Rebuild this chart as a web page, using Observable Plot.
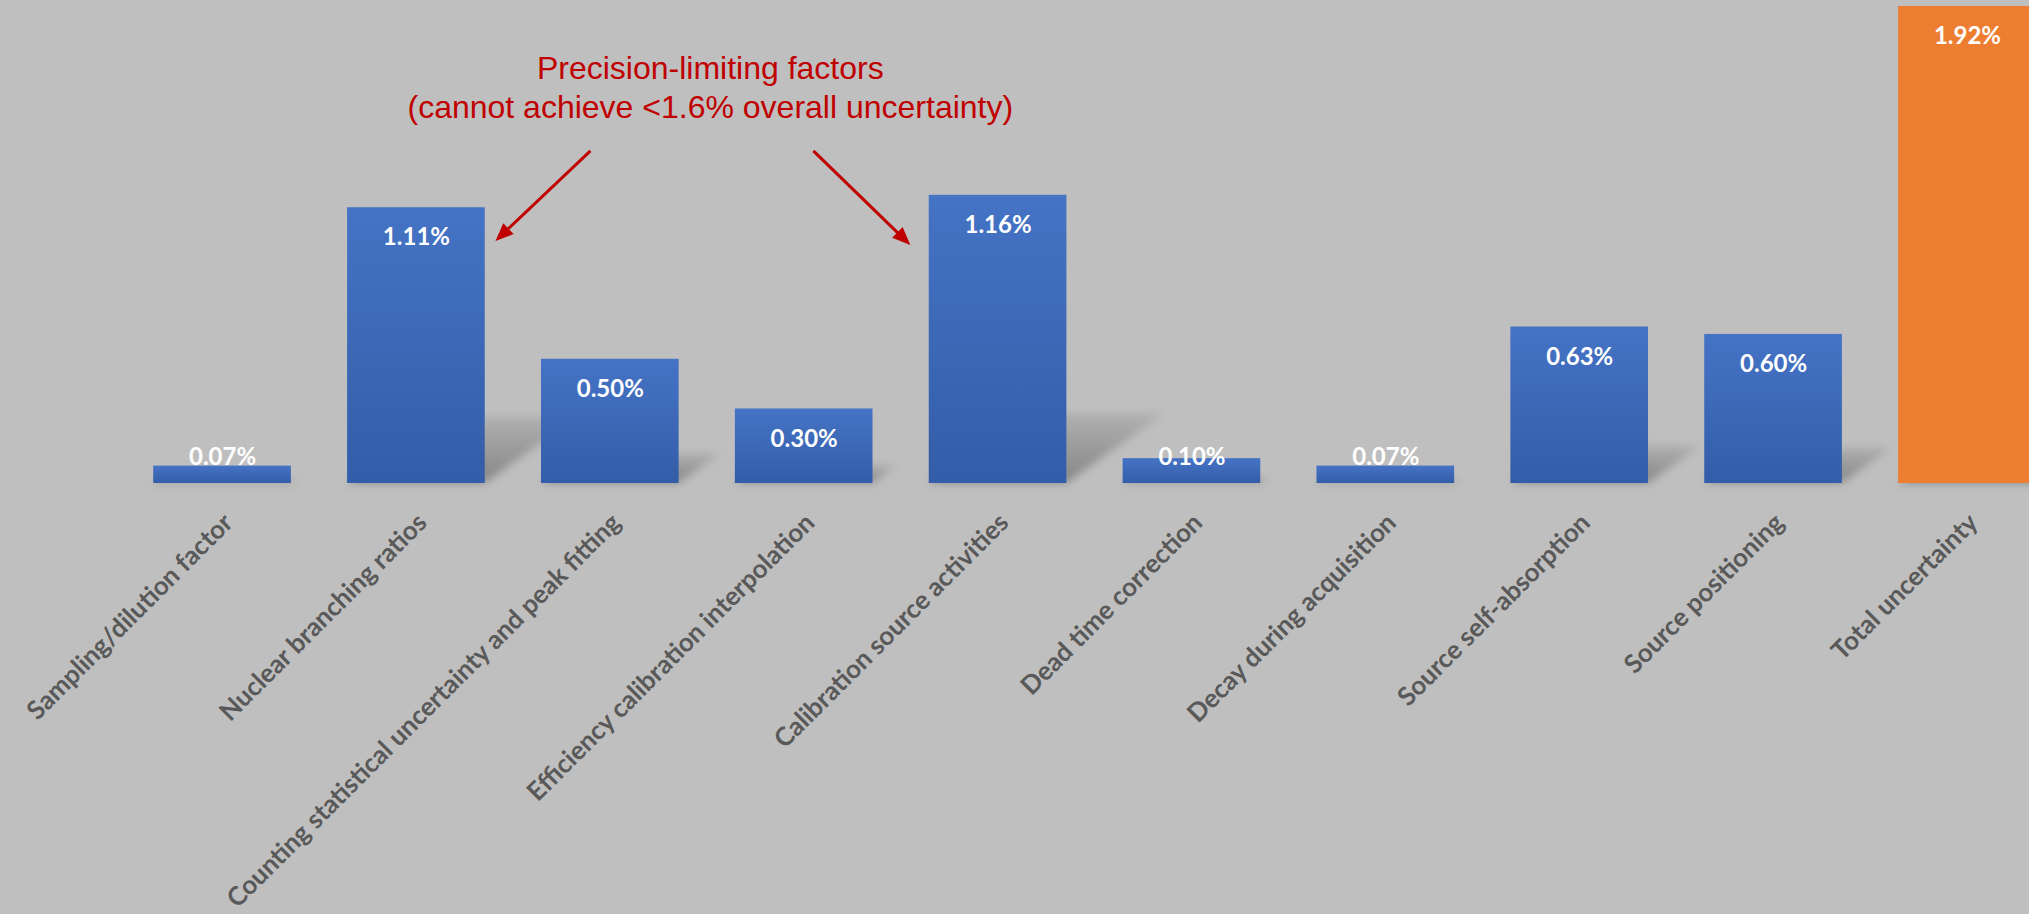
<!DOCTYPE html>
<html><head><meta charset="utf-8">
<script src="https://cdn.jsdelivr.net/npm/d3@7"></script>
<script src="https://cdn.jsdelivr.net/npm/@observablehq/plot@0.6"></script>
<style>
html,body{margin:0;padding:0;background:#BFBFBF;overflow:hidden;}
#chart svg{display:block;}
</style></head><body><div id="chart"></div>
<script>
// ---- data ----
const categories = [
  "Sampling/dilution factor",
  "Nuclear branching ratios",
  "Counting statistical uncertainty and peak fitting",
  "Efficiency calibration interpolation",
  "Calibration source activities",
  "Dead time correction",
  "Decay during acquisition",
  "Source self-absorption",
  "Source positioning",
  "Total uncertainty"
];
const values = [0.07, 1.11, 0.50, 0.30, 1.16, 0.10, 0.07, 0.63, 0.60, 1.92];
const valueLabels = ["0.07%", "1.11%", "0.50%", "0.30%", "1.16%", "0.10%", "0.07%", "0.63%", "0.60%", "1.92%"];
const totalCategory = "Total uncertainty";

// annotation
const annotationLines = ["Precision-limiting factors", "(cannot achieve <1.6% overall uncertainty)"];
const annotationCategory = "Counting statistical uncertainty and peak fitting";
const annotationY = 1.60;
const arrowFromCategory = ["Counting statistical uncertainty and peak fitting", "Efficiency calibration interpolation"];
const arrowFromOffset = [-0.10, 0.05];
const arrowFromY = [1.337, 1.337];
const arrowToCategory = ["Nuclear branching ratios", "Calibration source activities"];
const arrowToOffset = [0.41, -0.45];
const arrowToY = [0.974, 0.958];

const data = categories.map((c, i) => ({category: c, value: values[i], label: valueLabels[i]}));
const arrows = arrowFromCategory.map((c, i) => ({
  c1: c, o1: arrowFromOffset[i], y1: arrowFromY[i],
  c2: arrowToCategory[i], o2: arrowToOffset[i], y2: arrowToY[i]
}));

const labelFont = "Lato, 'Open Sans', sans-serif";

function shadowMark(index, scales) {
  const x = scales.x, y = scales.y;
  const bw = x.bandwidth();
  const g = d3.create("svg:g").attr("filter", "url(#shadowBlur)");
  for (const d of data) {
    const x0 = x(d.category);
    const yb = y(0), yt = y(d.value);
    const h = (yb - yt) * 0.24;
    const s = h * 1.4;
    g.append("polygon")
      .attr("points", [[x0, yb], [x0 + bw, yb], [x0 + bw + s, yb - h], [x0 + s, yb - h]].map(p => p.join(",")).join(" "))
      .attr("fill", "url(#shadowGrad)");
  }
  return g.node();
}

function arrowMark(index, scales) {
  const x = scales.x, y = scales.y;
  const bw = x.bandwidth();
  const step = x.step();
  const g = d3.create("svg:g");
  for (const a of arrows) {
    const xa = x(a.c1) + bw / 2 + a.o1 * step, ya = y(a.y1);
    const xb = x(a.c2) + bw / 2 + a.o2 * step, yb = y(a.y2);
    const dx = xb - xa, dy = yb - ya, L = Math.hypot(dx, dy);
    const ux = dx / L, uy = dy / L;
    const head = 18, half = 7.5;
    const bx = xb - ux * head, by = yb - uy * head;
    g.append("line")
      .attr("x1", xa).attr("y1", ya).attr("x2", bx + ux * 2).attr("y2", by + uy * 2)
      .attr("stroke", "#C00000").attr("stroke-width", 3);
    g.append("polygon")
      .attr("points", [[xb, yb], [bx - uy * half, by + ux * half], [bx + uy * half, by - ux * half]].map(p => p.join(",")).join(" "))
      .attr("fill", "#C00000");
  }
  return g.node();
}

const chart = Plot.plot({
  width: 2029,
  height: 914,
  marginTop: 6,
  marginBottom: 431,
  marginLeft: 0,
  marginRight: 0,
  style: {background: "#BFBFBF", overflow: "visible"},
  x: {domain: categories, range: [97, 2092], padding: 0.29, round: false, axis: null},
  y: {domain: [0, 1.92], axis: null},
  marks: [
    shadowMark,
    Plot.barY(data.filter(d => d.category !== totalCategory), {x: "category", y: "value", fill: "url(#blueGrad)"}),
    Plot.barY(data.filter(d => d.category === totalCategory), {x: "category", y: "value", fill: "#ED7D31"}),
    Plot.text(data.filter(d => d.value >= 0.2), {
      x: "category", y: "value", text: "label", dy: 30,
      fill: "white", fontWeight: 700, fontSize: 24, fontFamily: labelFont
    }),
    Plot.text(data.filter(d => d.value < 0.2), {
      x: "category", y: () => 0, text: "label", dy: -26,
      fill: "white", fontWeight: 700, fontSize: 24, fontFamily: labelFont
    }),
    Plot.text(data, {
      x: "category", y: () => 0, text: "category", rotate: -45, textAnchor: "end",
      dx: 6, dy: 35, fill: "#595959", fontWeight: 700, fontSize: 25.8, fontFamily: labelFont
    }),
    Plot.text([annotationLines.join("\n")], {
      x: () => annotationCategory, y: () => annotationY, text: d => d, dx: 100,
      fill: "#C00000", fontSize: 32, lineHeight: 1.22, fontFamily: "'Liberation Sans', Arial, sans-serif"
    }),
    arrowMark
  ]
});

const svg = d3.select(chart);
const defs = svg.insert("defs", ":first-child");
const bg = defs.append("linearGradient").attr("id", "blueGrad").attr("x1", 0).attr("y1", 0).attr("x2", 0).attr("y2", 1);
bg.append("stop").attr("offset", "0%").attr("stop-color", "#4573C5");
bg.append("stop").attr("offset", "100%").attr("stop-color", "#335DA8");
const sg = defs.append("linearGradient").attr("id", "shadowGrad").attr("x1", 0).attr("y1", 0).attr("x2", 0).attr("y2", 1);
sg.append("stop").attr("offset", "0%").attr("stop-color", "#000").attr("stop-opacity", 0.08);
sg.append("stop").attr("offset", "100%").attr("stop-color", "#000").attr("stop-opacity", 0.3);
const f = defs.append("filter").attr("id", "shadowBlur").attr("x", "-20%").attr("y", "-20%").attr("width", "140%").attr("height", "140%");
f.append("feGaussianBlur").attr("stdDeviation", 4);

document.getElementById("chart").appendChild(chart);
</script>
</body></html>
